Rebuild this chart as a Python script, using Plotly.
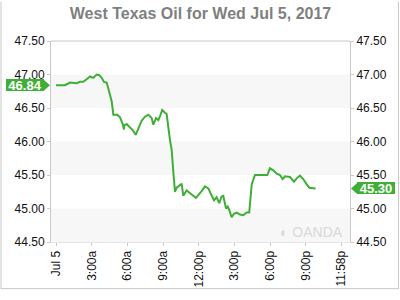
import plotly.graph_objects as go

title_text = "West Texas Oil for Wed Jul 5, 2017"

hours = [0.0, 0.76, 1.18, 1.60, 1.74, 2.02, 2.29, 2.58, 2.86, 3.13, 3.42, 3.64, 3.84, 4.03, 4.26,
         4.68, 4.82, 5.15, 5.38, 5.61, 5.71, 5.74, 5.94, 6.22, 6.45, 6.70, 6.92, 7.20, 7.48, 7.76,
         8.04, 8.18, 8.40, 8.60, 8.74, 8.93, 9.16, 9.30, 9.58, 9.72, 9.86, 10.0, 10.14, 10.42, 10.56,
         10.70, 10.98, 11.40, 11.76, 12.24, 12.52, 12.80, 13.08, 13.28, 13.50, 13.72, 13.92, 14.06,
         14.29, 14.43, 14.56, 14.76, 14.96, 15.18, 15.46, 15.74, 16.03, 16.24, 16.45, 16.72, 17.76,
         17.98, 18.26, 18.55, 18.82, 19.05, 19.24, 19.66, 20.00, 20.23, 20.50, 20.78, 21.07, 21.29, 21.82]
prices = [46.84, 46.84, 46.88, 46.88, 46.87, 46.89, 46.89, 46.93, 46.97, 46.95, 47.00, 46.99, 46.95, 46.89, 46.88,
          46.60, 46.40, 46.40, 46.36, 46.26, 46.18, 46.24, 46.26, 46.21, 46.17, 46.10, 46.19, 46.31, 46.37, 46.40,
          46.35, 46.25, 46.35, 46.32, 46.38, 46.47, 46.43, 46.41, 46.02, 45.88, 45.55, 45.25, 45.31, 45.35, 45.37,
          45.19, 45.27, 45.21, 45.16, 45.26, 45.33, 45.30, 45.19, 45.12, 45.17, 45.08, 45.18, 45.19,
          45.00, 45.03, 44.98, 44.87, 44.92, 44.94, 44.91, 44.90, 44.94, 44.94, 45.36, 45.50, 45.50,
          45.60, 45.57, 45.52, 45.50, 45.44, 45.48, 45.47, 45.40, 45.45, 45.49, 45.44, 45.36, 45.31, 45.30]

open_price = 46.84
last_price = 45.30

x_tickvals = [0, 3, 6, 9, 12, 15, 18, 21, 23.967]
x_ticktext = ["Jul 5", "3:00a", "6:00a", "9:00a", "12:00p", "3:00p", "6:00p", "9:00p", "11:58p"]
y_tickvals = [44.5, 45.0, 45.5, 46.0, 46.5, 47.0, 47.5]
y_range = [44.5, 47.5]
bands = [(44.5, 45.0), (45.5, 46.0), (46.5, 47.0)]

GREEN = "#3fae36"
AXIS = "#c8c8c8"

fig = go.Figure()
fig.add_trace(go.Scatter(x=hours, y=prices, mode="lines",
                         line=dict(color=GREEN, width=2), hoverinfo="skip"))
fig.add_trace(go.Scatter(x=hours, y=prices, mode="lines", yaxis="y2",
                         line=dict(color="rgba(0,0,0,0)", width=0), hoverinfo="skip"))

shapes = []
for lo, hi in bands:
    shapes.append(dict(type="rect", xref="paper", yref="y", x0=0, x1=1, y0=lo, y1=hi,
                       fillcolor="#f7f7f7", line=dict(width=0), layer="below"))

L, R, T, B = 51, 50, 41, 50
PW, PH = 400 - L - R, 300 - T - B
def px(xp):
    return (xp - L) / PW
def py(yp):
    return (300 - B - yp) / PH
def vy(v):
    return (v - y_range[0]) / (y_range[1] - y_range[0])

# outer frame
shapes.append(dict(type="line", xref="paper", yref="paper", x0=px(1), x1=px(1), y0=py(0), y1=py(299),
                   line=dict(color=AXIS, width=1)))
shapes.append(dict(type="line", xref="paper", yref="paper", x0=px(398.5), x1=px(398.5), y0=py(0), y1=py(299),
                   line=dict(color=AXIS, width=1)))
shapes.append(dict(type="line", xref="paper", yref="paper", x0=px(1), x1=px(398.5), y0=py(298.5), y1=py(298.5),
                   line=dict(color=AXIS, width=1)))
shapes.append(dict(type="line", xref="paper", yref="paper", x0=0, x1=1, y0=1, y1=1,
                   line=dict(color=AXIS, width=1)))

# arrow tips of price tags
hp = 6.0 / PH
yo, yl = vy(open_price), vy(last_price)
shapes.append(dict(type="path", xref="paper", yref="paper",
                   path=f"M {px(43.5)},{yo-hp} L {px(50)},{yo} L {px(43.5)},{yo+hp} Z",
                   fillcolor=GREEN, line=dict(width=0)))
shapes.append(dict(type="path", xref="paper", yref="paper",
                   path=f"M {px(357.5)},{yl-hp} L {px(351)},{yl} L {px(357.5)},{yl+hp} Z",
                   fillcolor=GREEN, line=dict(width=0)))

tagfont = dict(color="white", size=13, family="Liberation Sans, Arial")
annotations = [
    dict(xref="paper", yref="paper", x=px(44), y=yo, xanchor="right", yanchor="middle",
         text=f"<b>{open_price:.2f}</b>", showarrow=False, font=tagfont,
         bgcolor=GREEN, width=38, height=12, borderpad=0, borderwidth=0, align="center"),
    dict(xref="paper", yref="paper", x=px(357), y=yl, xanchor="left", yanchor="middle",
         text=f"<b>{last_price:.2f}</b>", showarrow=False, font=tagfont,
         bgcolor=GREEN, width=38, height=12, borderpad=0, borderwidth=0, align="center"),
    dict(xref="paper", yref="paper", x=px(345), y=py(240), xanchor="right", yanchor="middle",
         text="◐ OANDA", showarrow=False, font=dict(color="#d8d8d8", size=14, family="Liberation Sans, Arial")),
]

fig.update_layout(
    width=400, height=300,
    margin=dict(l=L, r=R, t=T, b=B),
    paper_bgcolor="white", plot_bgcolor="white",
    showlegend=False,
    title=dict(text=f"<b>{title_text}</b>", x=0.5, xref="paper", xanchor="center",
               y=1 - 13 / 300, yref="container", yanchor="middle",
               font=dict(color="#7f7f7f", size=16, family="Liberation Sans, Arial")),
    font=dict(family="Liberation Sans, Arial", size=12, color="#111"),
    xaxis=dict(range=[-0.42, 24.71], tickvals=x_tickvals, ticktext=x_ticktext, tickangle=-90,
               showgrid=False, zeroline=False, showline=True, linecolor="#e6e6e6",
               ticks="outside", ticklen=3, tickcolor=AXIS, tickfont=dict(size=12, color="#111")),
    yaxis=dict(range=y_range, tickvals=y_tickvals, tickformat=".2f", showgrid=False,
               zeroline=False, showline=True, linecolor=AXIS, ticks="outside", ticklen=3,
               tickcolor=AXIS, tickfont=dict(size=12, color="#111")),
    yaxis2=dict(range=y_range, tickvals=y_tickvals, tickformat=".2f", overlaying="y",
                side="right", showgrid=False, zeroline=False, showline=True, linecolor=AXIS,
                ticks="outside", ticklen=3, tickcolor=AXIS, tickfont=dict(size=12, color="#111")),
    shapes=shapes,
    annotations=annotations,
)

fig.write_html("out.html")
